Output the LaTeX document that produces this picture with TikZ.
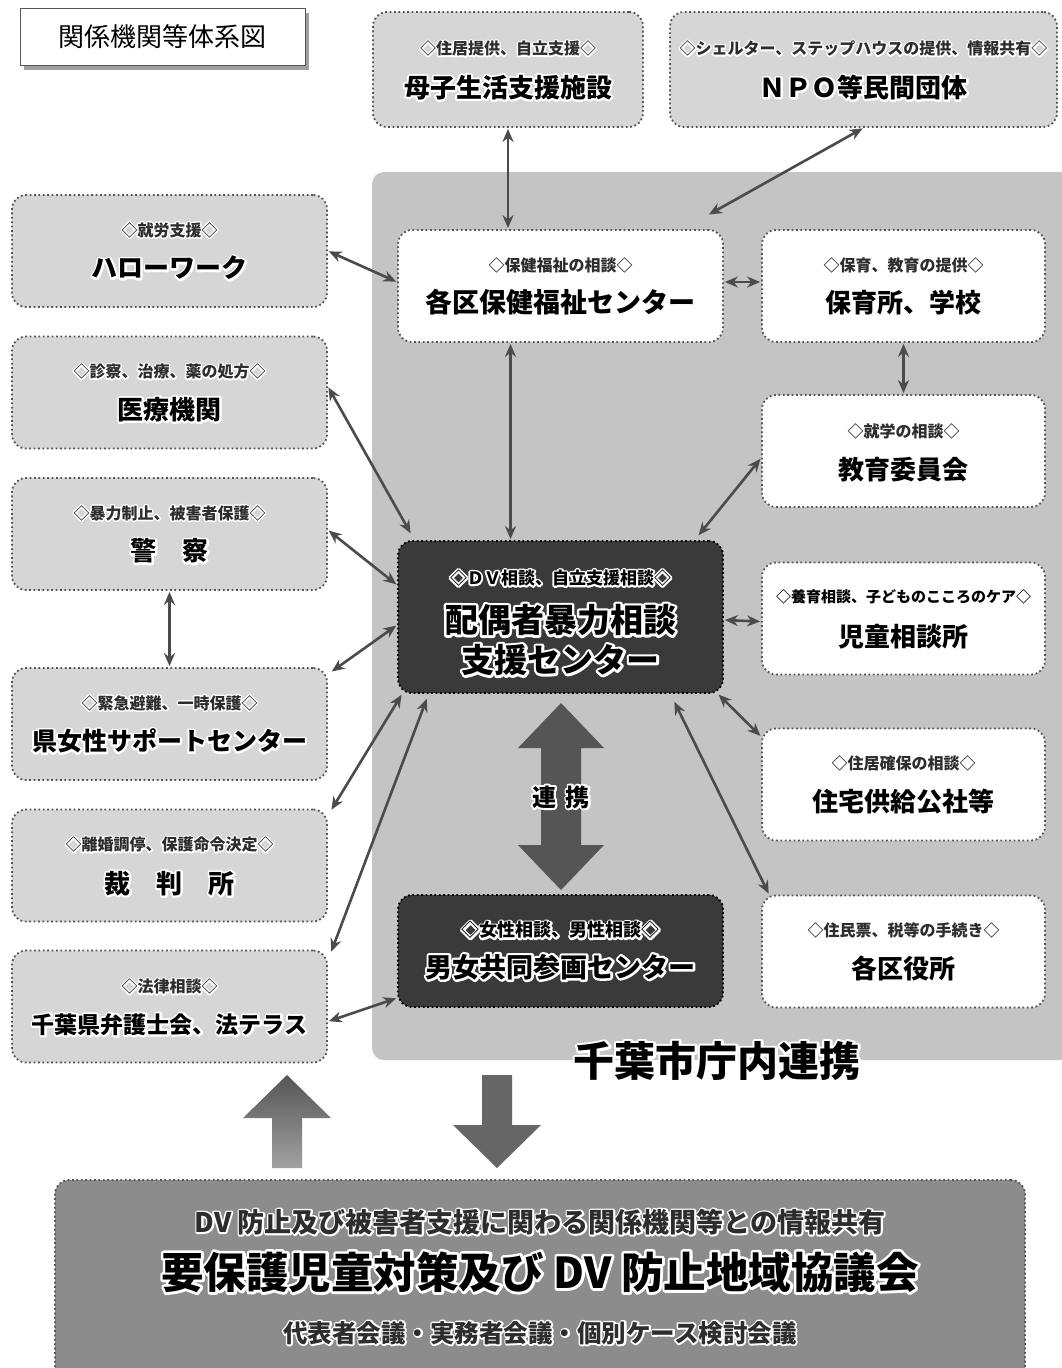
\documentclass[tikz,border=0pt]{standalone}
\usepackage{fontspec}
\newfontfamily\jp{Noto Sans CJK JP}
\usetikzlibrary{arrows.meta,calc}
\definecolor{lfill}{RGB}{214,214,214}
\definecolor{pfill}{RGB}{196,196,196}
\definecolor{dfill}{RGB}{58,58,58}
\definecolor{bfill}{RGB}{140,140,140}
\definecolor{bord}{RGB}{85,85,85}
\definecolor{arrc}{RGB}{75,75,75}
\definecolor{bigarr}{RGB}{85,85,85}
\definecolor{subc}{RGB}{45,45,45}
\definecolor{shadc}{RGB}{120,120,120}
\newcommand\fsub{\jp\bfseries\fontsize{16}{18}\selectfont}
\newcommand\fmain{\jp\bfseries\fontsize{26}{28}\selectfont}
\newcommand\fbig{\jp\bfseries\fontsize{33}{35}\selectfont}
% haloed text: a white stroked outline laid under the filled text
\newcommand\htxt[2][4]{\rlap{\special{pdf:literal direct q 1 Tr 1 G #1 w 1 j}#2\special{pdf:literal direct Q}}#2}
\begin{document}
\begin{tikzpicture}[x=1pt,y=-1pt,
  bx/.style={draw=bord, line width=1.8pt, dash pattern=on 1.8pt off 2.6pt, rounded corners=14pt, inner sep=0pt},
  lbox/.style={bx, fill=lfill},
  wbox/.style={bx, fill=white},
  dbox/.style={bx, fill=dfill, draw=black},
  lcol/.style={lbox, minimum width=315pt, minimum height=112pt},
  rcol/.style={wbox, minimum width=283pt, minimum height=112pt},
  sub/.style={font=\fsub, text=subc, inner sep=0pt},
  main/.style={font=\fmain, text=black, inner sep=0pt},
  conn/.style={{Stealth[length=13pt,width=11pt]}-{Stealth[length=13pt,width=11pt]}, line width=2.6pt, draw=arrc, shorten <=1pt, shorten >=1pt}]
\useasboundingbox[fill=white] (0,0) rectangle (1061,1368);

% title
\fill[shadc!70] (24,13) rectangle (309,70);
\node[draw=bord, fill=white, line width=1pt, minimum width=285pt, minimum height=57pt, inner sep=0pt,
  font=\jp\fontsize{26}{28}\selectfont] (title) at (162.5,36.5) {関係機関等体系図};

% city panel
\node[fill=pfill, rounded corners=12pt, minimum width=700pt, minimum height=888pt, inner sep=0pt] (panel) at (722,616) {};

% top boxes
\node[lbox, minimum width=270pt, minimum height=115pt] (boshi) at (508,69.5) {};
\node[lbox, minimum width=387pt, minimum height=115pt] (npo) at (863.5,69.5) {};
% left column
\node[lcol] (hw) at (169.5,251) {};
\node[lcol] (iryo) at (169.5,392.5) {};
\node[lcol] (kei) at (169.5,534) {};
\node[lcol] (ken) at (169.5,724) {};
\node[lcol] (sai) at (169.5,865.5) {};
\node[lcol] (ben) at (169.5,1006.5) {};
% inner boxes
\node[wbox, minimum width=325pt, minimum height=112pt] (hoken) at (560.5,286) {};
\node[rcol] (hoiku) at (903.5,286) {};
\node[rcol] (kyoiku) at (903.5,451) {};
\node[rcol] (jido) at (903.5,618.5) {};
\node[rcol] (jutaku) at (903.5,784.5) {};
\node[rcol] (kuyaku) at (903.5,951.5) {};
\node[dbox, minimum width=325pt, minimum height=152pt] (dv) at (560.5,617) {};
\node[dbox, minimum width=325pt, minimum height=112pt] (danjo) at (560.5,951) {};

% texts
\node[sub] (boshiA) at ($(boshi.center)+(0,-21)$) {\htxt[3]{◇住居提供、自立支援◇}};
\node[main] (boshiB) at ($(boshi.center)+(0,18)$) {\htxt{母子生活支援施設}};
\node[sub] (npoA) at ($(npo.center)+(0,-21)$) {\htxt[3]{◇シェルター、ステップハウスの提供、情報共有◇}};
\node[main] (npoB) at ($(npo.center)+(0,18)$) {\htxt{ＮＰＯ等民間団体}};

\node[sub] (hwA) at ($(hw.center)+(0,-21)$) {\htxt[3]{◇就労支援◇}};
\node[main] (hwB) at ($(hw.center)+(0,17)$) {\htxt{ハローワーク}};
\node[sub] (iryoA) at ($(iryo.center)+(0,-21)$) {\htxt[3]{◇診察、治療、薬の処方◇}};
\node[main] (iryoB) at ($(iryo.center)+(0,17)$) {\htxt{医療機関}};
\node[sub] (keiA) at ($(kei.center)+(0,-21)$) {\htxt[3]{◇暴力制止、被害者保護◇}};
\node[main] (keiB) at ($(kei.center)+(0,17)$) {\htxt{警\hspace{1em}察}};
\node[sub] (kenA) at ($(ken.center)+(0,-21)$) {\htxt[3]{◇緊急避難、一時保護◇}};
\node[main, font=\jp\bfseries\fontsize{25}{27}\selectfont] (kenB) at ($(ken.center)+(0,17)$) {\htxt{県女性サポートセンター}};
\node[sub] (saiA) at ($(sai.center)+(0,-21)$) {\htxt[3]{◇離婚調停、保護命令決定◇}};
\node[main] (saiB) at ($(sai.center)+(0,18)$) {\htxt{裁\hspace{1em}判\hspace{1em}所}};
\node[sub] (benA) at ($(ben.center)+(0,-20)$) {\htxt[3]{◇法律相談◇}};
\node[main, font=\jp\bfseries\fontsize{23}{25}\selectfont] (benB) at ($(ben.center)+(0,18)$) {\htxt{千葉県弁護士会、法テラス}};

\node[sub] (hokenA) at ($(hoken.center)+(0,-21)$) {\htxt[3]{◇保健福祉の相談◇}};
\node[main, font=\jp\bfseries\fontsize{27}{29}\selectfont] (hokenB) at ($(hoken.center)+(0,16)$) {\htxt{各区保健福祉センター}};
\node[sub] (hoikuA) at ($(hoiku.center)+(0,-21)$) {\htxt[3]{◇保育、教育の提供◇}};
\node[main] (hoikuB) at ($(hoiku.center)+(0,17)$) {\htxt{保育所、学校}};
\node[sub] (kyoikuA) at ($(kyoiku.center)+(0,-20)$) {\htxt[3]{◇就学の相談◇}};
\node[main] (kyoikuB) at ($(kyoiku.center)+(0,19)$) {\htxt{教育委員会}};
\node[font=\jp\bfseries\fontsize{15}{17}\selectfont, inner sep=0pt] (jidoA) at ($(jido.center)+(0,-22)$) {◇養育相談、子どものこころのケア◇};
\node[main] (jidoB) at ($(jido.center)+(0,18)$) {\htxt{児童相談所}};
\node[sub] (jutakuA) at ($(jutaku.center)+(0,-21)$) {\htxt[3]{◇住居確保の相談◇}};
\node[main] (jutakuB) at ($(jutaku.center)+(0,17)$) {\htxt{住宅供給公社等}};
\node[sub] (kuyakuA) at ($(kuyaku.center)+(0,-21)$) {\htxt[3]{◇住民票、税等の手続き◇}};
\node[main] (kuyakuB) at ($(kuyaku.center)+(0,17)$) {\htxt{各区役所}};

\node[main, font=\jp\bfseries\fontsize{17}{19}\selectfont] (dvA) at ($(dv.center)+(0,-39)$) {\htxt[3.6]{◇ＤＶ相談、自立支援相談◇}};
\node[main, font=\fbig] (dvB) at ($(dv.center)+(0,3)$) {\htxt[5]{配偶者暴力相談}};
\node[main, font=\fbig] (dvC) at ($(dv.center)+(0,43)$) {\htxt[5]{支援センター}};
\node[main, font=\jp\bfseries\fontsize{18}{20}\selectfont] (danjoA) at ($(danjo.center)+(0,-21)$) {\htxt[3.6]{◇女性相談、男性相談◇}};
\node[main, font=\jp\bfseries\fontsize{27}{29}\selectfont] (danjoB) at ($(danjo.center)+(0,16)$) {\htxt[4.6]{男女共同参画センター}};

% big renkei arrow
\fill[bigarr] (561,703) -- (604,748) -- (581,748) -- (581,845) -- (604,845) -- (561,890)
  -- (518,845) -- (541,845) -- (541,748) -- (518,748) -- cycle;
\node[main, font=\jp\bfseries\fontsize{24}{26}\selectfont] (renkei) at (561,797) {\htxt[4]{連\hspace{0.4em}携}};

% panel label
\node[main, font=\jp\bfseries\fontsize{41}{43}\selectfont] (panelT) at (717,1061) {\htxt[5]{千葉市庁内連携}};

% connectors
\coordinate (npoEnd) at (708,215);
\draw[conn] (boshi.south) -- (boshi.south |- hoken.north);
\draw[conn] (npo.south) -- (npoEnd);
\draw[conn] (hw.east) -- ([yshift=4pt]hoken.west);
\draw[conn] ([yshift=4pt]hoken.east) -- ([yshift=4pt]hoiku.west);
\draw[conn] (hoiku.south) -- (kyoiku.north);
\draw[conn] ([xshift=-50pt]hoken.south) -- ([xshift=-50pt]dv.north);
\draw[conn] ([yshift=6pt]iryo.east) -- ([shift={(14pt,6pt)}]dv.north west);
\draw[conn] ([yshift=4pt]kei.east) -- ([yshift=32pt]dv.west);
\draw[conn] ([yshift=-7pt]kyoiku.west) -- ([shift={(-26pt,4pt)}]dv.north east);
\draw[conn] ([shift={(3pt,-5pt)}]ken.north east) -- ([yshift=-8pt]dv.west);
\draw[conn] ([yshift=-3pt]jido.west) -- ([yshift=-3pt]dv.east);
\draw[conn] ([shift={(3pt,-2pt)}]sai.north east) -- ([shift={(5pt,0pt)}]dv.south west);
\draw[conn] ([shift={(3pt,-3pt)}]ben.north east) -- ([shift={(30pt,-4pt)}]dv.south west);
\draw[conn] ([yshift=-15pt]ben.east) -- ([yshift=-47pt]danjo.west);
\draw[conn] ([shift={(-6pt,0pt)}]dv.south east) -- ([yshift=-9pt]jutaku.north west);
\draw[conn] ([shift={(-50pt,-7pt)}]dv.south east) -- ([xshift=8pt]kuyaku.north west);
\draw[conn] (kei.south) -- (ken.north);

% bottom arrows
\shade[top color=bigarr, bottom color=bigarr!55] (287,1075) -- (331,1118) -- (302,1118) -- (302,1168) -- (272,1168) -- (272,1118) -- (243,1118) -- cycle;
\fill[bigarr!90] (497,1168) -- (541,1125) -- (512,1125) -- (512,1075) -- (482,1075) -- (482,1125) -- (453,1125) -- cycle;

% bottom box
\node[bx, fill=bfill, minimum width=970pt, minimum height=200pt] (kyogi) at (540,1280) {};
\node[sub, font=\jp\bfseries\fontsize{27}{29}\selectfont] (kyA) at ($(kyogi.center)+(0,-58)$) {\htxt[3.4]{DV 防止及び被害者支援に関わる関係機関等との情報共有}};
\node[main, font=\jp\bfseries\fontsize{42.5}{44}\selectfont] (kyB) at ($(kyogi.center)+(0,-8)$) {\htxt[5.4]{要保護児童対策及び DV 防止地域協議会}};
\node[sub, font=\jp\bfseries\fontsize{24.5}{26}\selectfont] (kyC) at ($(kyogi.center)+(0,53)$) {\htxt[3.4]{代表者会議・実務者会議・個別ケース検討会議}};
\end{tikzpicture}
\end{document}
